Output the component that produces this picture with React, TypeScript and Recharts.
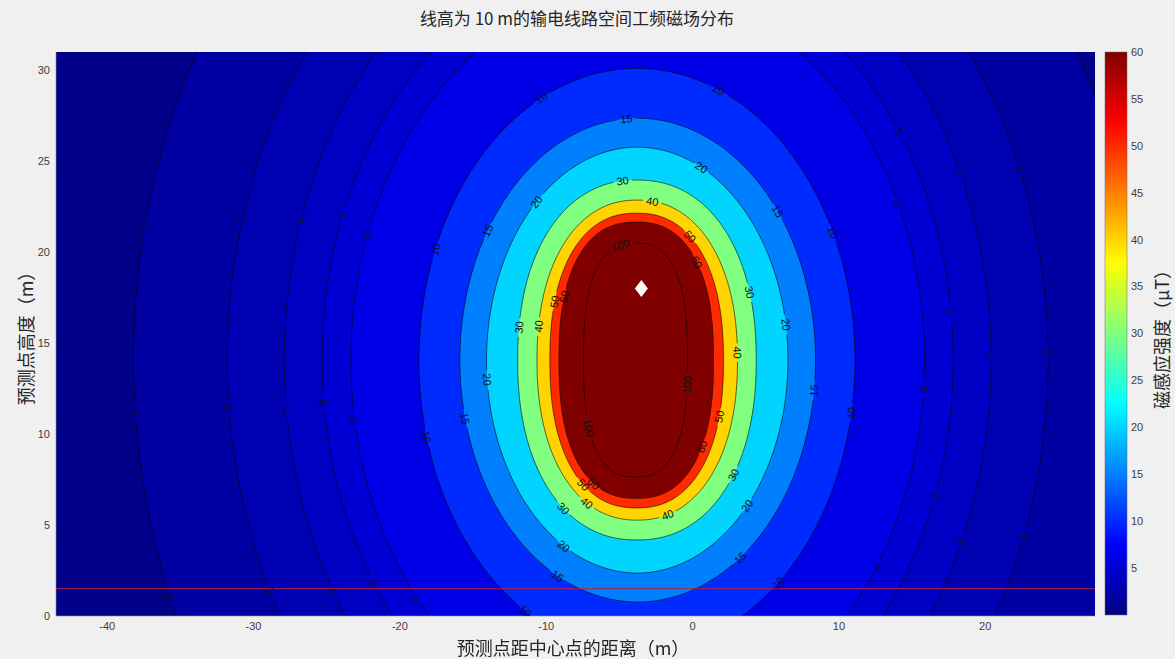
import React from 'react'
import {
  ComposedChart,
  Area,
  Line,
  Scatter,
  XAxis,
  YAxis,
  BarChart,
  Bar,
} from 'recharts'

// contour levels (μT)
const levels = [2, 3, 4, 5, 6, 10, 15, 20, 30, 40, 50, 60, 100]
// extremes of each contour in metres (clipped ones extrapolated from the visible arc)
const xLeft = [-38.2, -31.8, -27.9, -25.3, -23.35, -18.7, -15.9, -14.08, -11.95, -10.63, -9.75, -9.13, -7.45]
const xRight = [30.6, 24.3, 20.4, 17.8, 15.85, 11.1, 8.4, 6.52, 4.35, 3.07, 2.11, 1.43, -0.35]
const yBottom = [-20.7, -14.5, -11.0, -8.3, -6.45, -2.0, 0.77, 2.36, 4.18, 5.27, 5.94, 6.47, 7.64]
const yTop = [48.9, 42.7, 39.2, 36.5, 34.6, 30.1, 27.36, 25.77, 23.96, 22.86, 22.14, 21.65, 20.5]
// how boxy each ring is (2 = plain ellipse)
const squareness = [2, 2, 2, 2, 2, 2, 2, 2, 2.2, 2.2, 2.3, 2.4, 2.6]

// fill inside each level (jet, clim 0..60), and below the lowest one
const bandColors = ['#0000a2', '#0000b3', '#0000c4', '#0000d4', '#0000e6', '#002bff', '#0080ff', '#00d4ff', '#80ff80', '#ffd400', '#ff2b00', '#800000', '#800000']
const outsideColor = '#000088'

// inline labels: [level, x, y] where the number sits
const labelSpots: [number, number, number][] = [
  [2, -37.35, 21.39], [2, -38.17, 11.16], [2, -35.59, 0.99],
  [3, -30.65, 21.77], [3, -31.74, 11.49], [3, -28.94, 1.43], [3, 22.38, 24.68], [3, 24.43, 14.46], [3, 22.72, 4.29],
  [4, -21.43, 30.9], [4, -26.76, 21.6], [4, -27.86, 11.32], [4, -24.57, 1.32], [4, 18.27, 24.41], [4, 20.53, 14.24], [4, 18.62, 4.07],
  [5, -23.82, 22.05], [5, -25.26, 11.76], [5, -21.84, 1.87], [5, 14.18, 26.72], [5, 17.73, 16.82], [5, 16.7, 6.54],
  [6, -15.96, 29.91], [6, -22.18, 20.95], [6, -23.21, 10.78], [6, -18.9, 1.04], [6, 14.18, 22.76], [6, 16.02, 12.53], [6, 12.67, 2.64],
  [10, -10.29, 28.48], [10, 1.87, 29.03], [10, -17.67, 20.23], [10, -18.36, 9.84], [10, -10.9, 0.77], [10, 9.87, 21.22], [10, 11.1, 11.16], [10, 5.97, 1.81],
  [15, -4.48, 27.38], [15, -13.85, 21.11], [15, -15.62, 10.88], [15, -9.27, 2.14], [15, 5.97, 22.32], [15, 8.5, 12.42], [15, 3.24, 3.19],
  [20, 0.64, 24.68], [20, -10.56, 22.7], [20, -14.05, 12.97], [20, -8.86, 3.74], [20, 6.45, 16.0], [20, 3.92, 5.99],
  [30, -4.76, 23.8], [30, -11.8, 15.89], [30, -8.72, 5.99], [30, 3.92, 17.81], [30, 2.76, 7.75],
  [40, -2.77, 22.76], [40, -10.43, 15.89], [40, -7.15, 6.27], [40, -1.75, 5.66], [40, 3.03, 14.51],
  [50, -0.18, 20.84], [50, -9.2, 17.26], [50, -7.22, 7.37], [50, 1.87, 10.94],
  [60, 0.3, 19.46], [60, -8.38, 17.48], [60, -6.53, 7.48], [60, 0.64, 9.29],
  [100, -4.82, 20.12], [100, -0.31, 12.7], [100, -7.01, 10.34],
]

const conductor = [{ x: -3.5, y: 18 }]
const groundLineY = 1.5

const xTicks = [-40, -30, -20, -10, 0, 10, 20]
const yTicks = [0, 5, 10, 15, 20, 25, 30]
const cbTicks = [5, 10, 15, 20, 25, 30, 35, 40, 45, 50, 55, 60]
const cbRange = [{ k: 'cb', v: 60 }]

const X_DOMAIN: [number, number] = [-43.5, 27.5]
const Y_DOMAIN: [number, number] = [0, 31]
const PLOT_W = 1039
const PLOT_H = 564
const kx = PLOT_W / (X_DOMAIN[1] - X_DOMAIN[0])
const ky = PLOT_H / (Y_DOMAIN[1] - Y_DOMAIN[0])

const tickFont = "'Liberation Sans', Arial, Helvetica, sans-serif"
const cjkFont = "'Noto Sans CJK SC', 'Noto Sans', sans-serif"

const spow = (v: number, p: number) => Math.sign(v) * Math.pow(Math.abs(v), p)

function ring(i: number) {
  return {
    cx: (xLeft[i] + xRight[i]) / 2,
    cy: (yBottom[i] + yTop[i]) / 2,
    a: (xRight[i] - xLeft[i]) / 2,
    b: (yTop[i] - yBottom[i]) / 2,
    p: 2 / squareness[i],
  }
}

const FILL_STEPS = 240
const LINE_STEPS = 900

// range areas: lower/upper half of each ring
const fills = levels.map((_, i) => {
  const s = ring(i)
  const pts = []
  for (let k = 0; k <= FILL_STEPS; k++) {
    const t = (Math.PI * k) / FILL_STEPS
    const h = s.b * Math.pow(Math.abs(Math.sin(t)), s.p)
    pts.push({ x: s.cx - s.a * spow(Math.cos(t), s.p), r: [s.cy - h, s.cy + h] })
  }
  return pts
})

const rings = levels.map((_, i) => {
  const s = ring(i)
  const pts: { x: number; y: number }[] = []
  for (let k = 0; k <= LINE_STEPS; k++) {
    const t = (2 * Math.PI * k) / LINE_STEPS
    pts.push({ x: s.cx + s.a * spow(Math.cos(t), s.p), y: s.cy + s.b * spow(Math.sin(t), s.p) })
  }
  return pts
})

const labels = labelSpots.map(([lv, lx, ly]) => {
  const i = levels.indexOf(lv)
  const pts = rings[i]
  let best = 0
  let bd = Infinity
  for (let k = 0; k < LINE_STEPS; k++) {
    const d = ((pts[k].x - lx) * kx) ** 2 + ((pts[k].y - ly) * ky) ** 2
    if (d < bd) {
      bd = d
      best = k
    }
  }
  const q0 = pts[(best - 4 + LINE_STEPS) % LINE_STEPS]
  const q1 = pts[(best + 4) % LINE_STEPS]
  let angle = (Math.atan2(-(q1.y - q0.y) * ky, (q1.x - q0.x) * kx) * 180) / Math.PI
  if (angle > 90) angle -= 180
  if (angle <= -90) angle += 180
  const text = String(lv)
  return { level: i, x: pts[best].x, y: pts[best].y, text, angle, half: text.length * 3.2 + 2.5 }
})

// contour lines with gaps where labels sit
const lines = rings.map((pts, i) => {
  const own = labels.filter((l) => l.level === i)
  return pts.map((q) => {
    const hit = own.some((l) => Math.hypot((q.x - l.x) * kx, (q.y - l.y) * ky) < l.half)
    return hit ? { x: q.x, y: null } : q
  })
})

const plotBox = [
  { x: X_DOMAIN[0], r: [Y_DOMAIN[0], Y_DOMAIN[1]] },
  { x: X_DOMAIN[1], r: [Y_DOMAIN[0], Y_DOMAIN[1]] },
]
const groundLine = [
  { x: X_DOMAIN[0], y: groundLineY },
  { x: X_DOMAIN[1], y: groundLineY },
]

// eslint-disable-next-line @typescript-eslint/no-explicit-any
const LabelText = ({ cx, cy, payload }: any) => {
  if (cx == null || cy == null) return null
  return (
    <text
      x={cx}
      y={cy}
      transform={`rotate(${payload.angle} ${cx} ${cy})`}
      textAnchor="middle"
      dominantBaseline="central"
      fontSize={11}
      fontFamily={tickFont}
      fill="#111"
    >
      {payload.text}
    </text>
  )
}

// eslint-disable-next-line @typescript-eslint/no-explicit-any
const Diamond = ({ cx, cy }: any) => (
  <polygon points={`${cx},${cy - 8.5} ${cx + 6.5},${cy} ${cx},${cy + 8.5} ${cx - 6.5},${cy}`} fill="#fff" />
)

export default function App() {
  return (
    <div
      style={{
        position: 'fixed',
        left: 0,
        top: 0,
        width: 1175,
        height: 659,
        background: '#f0f0f0',
        fontFamily: cjkFont,
        color: '#262626',
      }}
    >
      <div style={{ position: 'absolute', left: 377, top: 7, width: 400, textAlign: 'center', fontSize: 17, lineHeight: '22px' }}>
        线高为 10 m的输电线路空间工频磁场分布
      </div>

      <div style={{ position: 'absolute', left: 0, top: 0 }}>
        <ComposedChart width={1100} height={659} margin={{ top: 52, right: 5, bottom: 18, left: 16 }}>
          <XAxis
            type="number"
            dataKey="x"
            domain={X_DOMAIN}
            allowDataOverflow
            ticks={xTicks}
            interval={0}
            height={25}
            tickLine={false}
            tickSize={4}
            axisLine={{ stroke: '#8a8a9a', strokeWidth: 0.6 }}
            tick={{ fontSize: 11, fill: '#404040', fontFamily: tickFont }}
          />
          <YAxis
            type="number"
            dataKey="y"
            domain={Y_DOMAIN}
            allowDataOverflow
            ticks={yTicks}
            interval={0}
            width={40}
            tickLine={false}
            tickSize={4}
            axisLine={{ stroke: '#8a8a9a', strokeWidth: 0.6 }}
            tick={{ fontSize: 11, fill: '#404040', fontFamily: tickFont }}
          />
          <Area
            data={plotBox}
            dataKey="r"
            type="linear"
            fill={outsideColor}
            fillOpacity={1}
            stroke="none"
            isAnimationActive={false}
          />
          {fills.map((d, i) => (
            <Area
              key={`f${i}`}
              data={d}
              dataKey="r"
              type="linear"
              fill={bandColors[i]}
              fillOpacity={1}
              stroke="none"
              isAnimationActive={false}
            />
          ))}
          {lines.map((d, i) => (
            <Line
              key={`l${i}`}
              data={d}
              dataKey="y"
              type="linear"
              stroke="#000"
              strokeWidth={0.6}
              dot={false}
              activeDot={false}
              isAnimationActive={false}
            />
          ))}
          <Line
            data={groundLine}
            dataKey="y"
            stroke="#b8203c"
            strokeWidth={1}
            dot={false}
            activeDot={false}
            isAnimationActive={false}
          />
          <Scatter data={labels} dataKey="y" shape={LabelText} isAnimationActive={false} />
          <Scatter data={conductor} dataKey="y" shape={Diamond} isAnimationActive={false} />
        </ComposedChart>
      </div>

      <div style={{ position: 'absolute', left: 1100, top: 0 }}>
        <BarChart width={67} height={659} data={cbRange} margin={{ top: 52, right: 0, bottom: 44, left: 5 }} barCategoryGap={0}>
          <defs>
            <linearGradient id="jetGrad" x1="0" y1="1" x2="0" y2="0">
              <stop offset="0" stopColor="#000080" />
              <stop offset="0.125" stopColor="#0000ff" />
              <stop offset="0.375" stopColor="#00ffff" />
              <stop offset="0.625" stopColor="#ffff00" />
              <stop offset="0.875" stopColor="#ff0000" />
              <stop offset="1" stopColor="#800000" />
            </linearGradient>
          </defs>
          <XAxis dataKey="k" hide />
          <YAxis
            orientation="right"
            type="number"
            domain={[0, 60]}
            ticks={cbTicks}
            interval={0}
            width={40}
            axisLine={false}
            tickLine={false}
            tickSize={2}
            tickMargin={2}
            tick={{ fontSize: 11, fill: '#404040', fontFamily: tickFont, textAnchor: 'start' }}
          />
          <Bar dataKey="v" fill="url(#jetGrad)" stroke="#6b6b6b" strokeWidth={0.5} isAnimationActive={false} />
        </BarChart>
      </div>

      <div
        style={{
          position: 'absolute',
          left: 25,
          top: 334,
          transform: 'translate(-50%, -50%) rotate(-90deg)',
          whiteSpace: 'nowrap',
          fontSize: 18,
        }}
      >
        预测点高度（m）
      </div>
      <div style={{ position: 'absolute', left: 373, top: 636, width: 400, textAlign: 'center', fontSize: 18, lineHeight: '22px' }}>
        预测点距中心点的距离（m）
      </div>
      <div
        style={{
          position: 'absolute',
          left: 1161,
          top: 335,
          transform: 'translate(-50%, -50%) rotate(-90deg)',
          whiteSpace: 'nowrap',
          fontSize: 18,
        }}
      >
        磁感应强度（μT）
      </div>
    </div>
  )
}
